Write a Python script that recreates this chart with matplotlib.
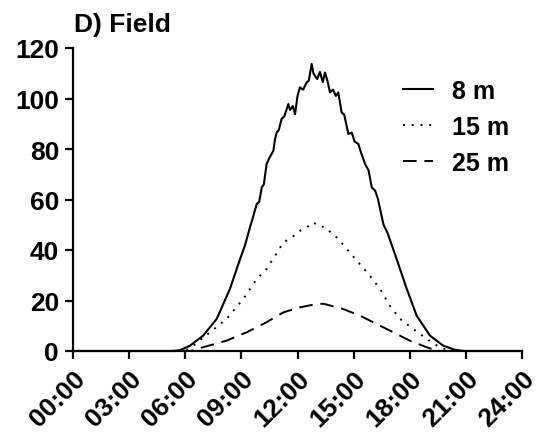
import matplotlib
matplotlib.use("Agg")
import matplotlib.pyplot as plt
from matplotlib.transforms import ScaledTranslation

plt.rcParams['font.family'] = ['Liberation Sans', 'DejaVu Sans']
plt.rcParams['font.weight'] = 'bold'

# Diurnal light at three depths (hour of day, value)
hours_8m = [0, 5.3, 5.72, 6.25, 6.96, 7.68, 8.39, 8.93, 9.2, 9.46, 9.6, 9.82, 9.95,
            10.09, 10.2, 10.35, 10.5, 10.71, 10.8, 10.89, 11.0, 11.15, 11.3, 11.51,
            11.6, 11.75, 11.87, 12.0, 12.13, 12.3, 12.49, 12.6, 12.76, 12.85, 13.05,
            13.2, 13.35, 13.47, 13.6, 13.74, 13.9, 14.05, 14.18, 14.36, 14.5, 14.72,
            14.9, 15.05, 15.25, 15.4, 15.61, 15.8, 15.97, 16.15, 16.3, 16.45, 16.6,
            16.8, 17.3, 17.84, 18.37, 19.08, 19.79, 20.4, 20.9, 24]
vals_8m = [0, 0, 0.3, 2.1, 6.1, 12.7, 24.6, 36.4, 42.0, 49.0, 52.5, 58.2, 59.0,
           64.8, 66.0, 74.1, 76.5, 79.3, 84.0, 86.6, 87.5, 91.9, 93.0, 97.8,
           95.5, 97.0, 93.8, 101.0, 104.4, 103.5, 106.4, 107.0, 113.7, 110.0, 107.7,
           110.5, 106.5, 110.3, 107.0, 102.4, 103.5, 101.0, 102.4, 94.5, 93.5, 85.9,
           86.5, 83.0, 82.0, 78.5, 74.1, 71.5, 64.8, 63.5, 60.2, 55.0, 50.0,
           47.0, 36.4, 24.6, 14.0, 6.1, 2.1, 0.5, 0, 0]

hours_15m = [0, 6.0, 6.43, 7.32, 8.21, 9.1, 9.82, 10.35, 10.8, 11.24, 11.7, 12.13,
             12.5, 12.85, 13.1, 13.47, 14.18, 14.63, 15.25, 15.87, 16.41, 16.94,
             17.48, 18.19, 18.9, 19.6, 20.2, 24]
vals_15m = [0, 0, 2.1, 7.4, 12.7, 20.6, 28.5, 32.5, 37.7, 43.0, 45.0, 47.6,
            49.0, 51.0, 49.5, 49.0, 44.4, 40.4, 35.1, 29.8, 24.6, 17.9,
            12.7, 8.7, 4.8, 1.5, 0, 0]

hours_25m = [0, 6.3, 6.96, 8.21, 9.28, 10.35, 11.24, 12.13, 13.02, 13.4, 14.45,
             15.34, 16.23, 17.12, 18.0, 18.9, 19.5, 24]
vals_25m = [0, 0, 1.5, 4.1, 7.4, 11.4, 15.3, 17.3, 18.6, 18.7, 16.6,
            14.0, 10.7, 7.4, 4.1, 1.5, 0, 0]

xtick_hours = [0, 3, 6, 9, 12, 15, 18, 21, 24]
xtick_labels = ['00:00', '03:00', '06:00', '09:00', '12:00', '15:00', '18:00', '21:00', '24:00']
ytick_vals = [0, 20, 40, 60, 80, 100, 120]

fig = plt.figure(figsize=(5.42, 4.35), dpi=100)
ax = fig.add_axes([73 / 542, 1 - 352 / 435, (522 - 73) / 542, (352 - 49) / 435])

ax.plot(hours_8m, vals_8m, color='black', lw=1.5, ls='-', label='8 m', clip_on=False)
ax.plot(hours_15m, vals_15m, color='black', lw=1.4, ls=(0, (1, 3.5)), label='15 m', clip_on=False)
ax.plot(hours_25m, vals_25m, color='black', lw=1.4, ls=(0, (7, 4)), label='25 m', clip_on=False)

ax.set_xlim(0, 24)
ax.set_ylim(0, 120)
ax.set_xticks(xtick_hours)
ax.set_xticklabels(xtick_labels, rotation=45, ha='right', va='top', rotation_mode='anchor')
shift = ScaledTranslation(6 / 100, -2 / 100, fig.dpi_scale_trans)
for lbl in ax.get_xticklabels():
    lbl.set_transform(lbl.get_transform() + shift)
ax.set_yticks(ytick_vals)

for s in ['top', 'right']:
    ax.spines[s].set_visible(False)
for s in ['left', 'bottom']:
    ax.spines[s].set_linewidth(1.6)
ax.tick_params(axis='both', direction='out', length=6, width=1.6, labelsize=19)
ax.tick_params(axis='x', pad=5)
ax.tick_params(axis='y', pad=4)
for lbl in ax.get_xticklabels() + ax.get_yticklabels():
    lbl.set_fontweight('bold')

fig.text(74 / 542, 1 - 32 / 435, 'D) Field', fontsize=19, fontweight='bold',
         ha='left', va='baseline')

ax.legend(loc='upper left', bbox_to_anchor=((403 - 73) / 449, 0.897), frameon=False,
          prop={'size': 18, 'weight': 'bold'}, handlelength=1.2, handletextpad=0.75,
          labelspacing=0.48, borderpad=0, borderaxespad=0)

fig.savefig('out.png', dpi=100)
